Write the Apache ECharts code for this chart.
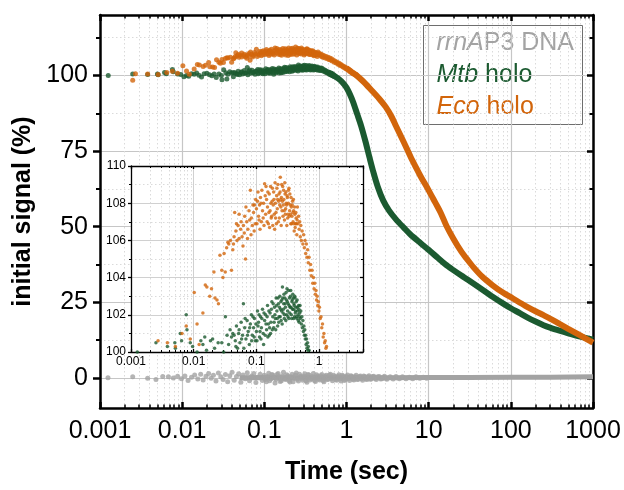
<!DOCTYPE html>
<html>
<head>
<meta charset="utf-8">
<script src="https://cdn.jsdelivr.net/npm/echarts@6/dist/echarts.min.js"></script>
<style>html,body{margin:0;padding:0;background:#fff;}#c{width:624px;height:490px;}</style>
</head>
<body>
<div id="c"></div>
<script>
// ---------------- DATA ----------------
const xTickValues = [0.001, 0.01, 0.1, 1, 10, 100, 1000];
const xTickLabels = ['0.001', '0.01', '0.1', '1', '10', '100', '1000'];
const yTickValues = [0, 25, 50, 75, 100];
const yMinorValues = [12.5, 37.5, 62.5, 87.5, 112.5];
const minorMultipliers = [2, 3, 4, 5, 6, 7, 8, 9];

const seriesNames = ['rrnAP3 DNA', 'Mtb holo', 'Eco holo'];

// Eco holo: early noisy points [time s, signal %]
const ecoDots = [
[0.0025,98.4],[0.0027,100.6],[0.0038,100.5],[0.0051,100.3],[0.0065,101.0],[0.0076,101.4],[0.0088,100.7],
[0.0102,103.2],[0.0113,101.5],[0.0122,100.4],[0.0140,102.1],[0.0153,103.6],[0.0162,103.5],[0.0180,103.0],
[0.0192,103.4],[0.0210,104.3],[0.0218,102.9],[0.0235,102.8],[0.0248,102.6],[0.0262,105.2],[0.0280,104.4],
[0.0292,104.0],[0.0305,105.3],[0.0318,104.3],[0.0335,105.6],[0.0350,105.9],[0.0362,105.8],[0.0385,106.0],
[0.0400,104.4],[0.0420,105.5],[0.0440,106.2],[0.0450,107.5],[0.0470,106.5],[0.0490,106.0],[0.0510,106.8],
[0.0530,107.4],[0.0560,106.6],[0.0590,106.2],[0.0620,106.8],[0.0650,107.3],[0.0670,105.0],[0.0700,107.0],
[0.0730,106.6],[0.0760,107.6],[0.0800,108.7],[0.0830,107.2],[0.0860,106.8],[0.0900,107.5],[0.0930,107.9],
[0.0960,106.9],[0.100,107.7],[0.104,108.1],[0.108,107.3],[0.112,107.9],[0.116,108.3],[0.120,107.0],
[0.125,107.6],[0.130,108.0],[0.135,109.05],[0.140,107.4],[0.145,108.2],[0.150,107.8],[0.155,106.9],
[0.160,108.5],[0.165,107.6],[0.170,108.0],[0.175,107.3],[0.180,108.8],[0.185,107.9],[0.190,108.2],
[0.195,106.6],[0.200,108.0],[0.205,107.5],[0.210,108.4],[0.215,107.7],[0.220,109.0],[0.226,108.1],
[0.232,107.2],[0.238,108.6],[0.240,109.4],[0.245,107.8],[0.250,108.3],[0.256,107.6],[0.262,108.9],
[0.268,107.9],[0.274,108.2],[0.280,107.1],[0.286,108.5],[0.292,107.7],[0.298,108.0],[0.305,106.8],
[0.312,108.3],[0.318,107.4],[0.325,108.7],[0.330,108.8],[0.338,107.6],[0.345,107.9],[0.352,106.9],
[0.360,107.8],[0.368,107.3],[0.376,108.1],[0.384,107.0],[0.392,107.6],[0.400,106.5],[0.410,107.4],
[0.420,106.9],[0.430,107.2],[0.440,106.3],[0.450,107.8],[0.460,106.9],[0.470,107.3],[0.480,106.6],
[0.490,107.0],[0.500,106.2],[0.510,106.8],[0.520,106.0],[0.535,106.5],[0.550,105.8],[0.565,106.3],
[0.580,105.6],[0.595,106.0],[0.610,105.3],[0.625,105.8],[0.640,105.1],[0.655,105.5],[0.670,104.8],
[0.690,105.1],[0.710,104.4],[0.730,104.7],[0.750,104.1],[0.770,104.4],[0.790,103.7],[0.810,104.0],
[0.830,103.4],[0.850,103.7],[0.870,103.1],[0.890,103.3],[0.910,102.8],[0.930,103.0],[0.950,102.5],
[0.970,102.7],[0.990,102.2],[1.010,102.4],[1.040,101.8],[1.070,101.9],[1.100,101.3],[1.130,101.5],
[1.160,100.8],[1.190,101.0],[1.220,100.5],[1.250,100.6],[1.280,100.2],[1.310,100.3],[1.340,99.9],
[0.043,105.8],[0.048,106.9],[0.053,106.1],[0.057,107.0],[0.061,105.7],[0.064,106.4],[0.068,107.8],
[0.072,106.1],[0.078,107.1],[0.082,106.3],[0.088,107.9],[0.092,106.5],[0.097,108.2],
[0.102,106.9],[0.106,108.6],[0.110,107.1],[0.114,106.6],[0.118,108.0],[0.122,108.7],[0.128,107.2],
[0.132,106.8],[0.138,108.4],[0.142,108.9],[0.148,107.0],[0.152,108.6],[0.158,107.5],[0.162,106.7],
[0.168,108.9],[0.172,107.2],[0.178,108.1],[0.182,106.8],[0.188,108.6],[0.192,107.4],[0.198,109.1],
[0.202,107.2],[0.208,106.9],[0.212,108.8],[0.218,108.2],[0.223,107.0],[0.229,108.5],[0.235,107.9],
[0.243,108.2],[0.248,106.8],[0.253,109.0],[0.259,108.1],[0.265,107.3],[0.271,108.7],[0.277,107.6],
[0.283,109.1],[0.289,107.4],[0.295,108.6],[0.302,107.9],[0.308,108.4],[0.315,107.2],[0.322,108.0],
[0.334,107.3],[0.341,108.5],[0.348,107.4],[0.356,108.3],[0.364,106.9],[0.372,107.9],[0.380,107.5],
[0.388,108.2],[0.396,106.9],[0.405,107.8],[0.415,106.7],[0.425,107.5],[0.435,106.9],[0.445,107.1]
];
// Eco holo: dense decay part
const ecoCurve = [
[1.0,102.4],[1.15,101.2],[1.3,100.2],[1.6,98.0],[2.0,95.2],[2.5,92.3],[3.0,89.6],[3.5,86.6],[4,83.3],
[5,77.8],[6,73.2],[7,69.6],[8,66.6],[10,62.0],[12,58.0],[14,54.6],[16.5,50.2],[20,46.0],[25,41.7],
[29,39.4],[35,36.6],[45,33.4],[60,30.6],[80,28.2],[105,26.3],[150,23.8],[200,22.0],[250,20.7],
[300,19.6],[400,17.7],[500,16.2],[700,14.0],[1000,11.6]
];

// Mtb holo: early noisy points
const mtbDots = [
[0.00126,100.0],[0.0025,100.5],[0.0038,100.3],[0.0050,100.5],[0.0051,100.2],[0.0061,101.0],[0.0064,100.6],
[0.0076,102.0],[0.0078,101.2],[0.0088,100.5],[0.0096,100.3],[0.0105,99.6],[0.0113,100.0],[0.0120,99.7],
[0.0130,100.6],[0.0140,100.4],[0.0150,100.8],[0.0160,100.1],[0.0172,99.5],[0.0185,100.6],[0.0200,100.7],
[0.0215,100.2],[0.0230,99.9],[0.0245,100.5],[0.0260,99.3],[0.0280,100.5],[0.0300,100.0],[0.0305,98.6],
[0.0320,101.9],[0.0340,100.9],[0.0350,98.8],[0.0360,100.4],[0.0380,101.2],[0.0400,100.8],[0.0420,99.6],
[0.0440,100.9],[0.0460,100.6],[0.0480,101.4],[0.0500,100.2],[0.0520,101.0],[0.0545,100.5],[0.0570,101.6],
[0.0600,100.9],[0.0620,102.6],[0.0650,101.3],[0.0680,100.7],[0.0710,101.7],[0.0740,101.1],[0.0770,100.4],
[0.0800,101.5],[0.0830,102.0],[0.0860,100.9],[0.0900,101.3],[0.0930,101.8],[0.0960,100.6],[0.100,101.1],
[0.104,102.2],[0.108,101.6],[0.112,100.8],[0.116,101.9],[0.120,101.3],[0.125,102.3],[0.130,100.4],
[0.135,101.7],[0.140,102.0],[0.145,101.2],[0.150,102.5],[0.155,101.5],[0.160,100.9],[0.165,102.1],
[0.170,101.6],[0.176,102.7],[0.182,101.9],[0.188,101.3],[0.194,102.4],[0.200,101.8],[0.206,102.9],
[0.212,102.2],[0.218,101.4],[0.224,102.6],[0.230,101.9],[0.236,103.0],[0.242,102.3],[0.248,101.7],
[0.254,102.8],[0.260,103.5],[0.266,102.1],[0.272,102.6],[0.278,101.8],[0.284,102.9],[0.290,102.4],
[0.297,103.2],[0.304,102.0],[0.311,102.7],[0.318,101.9],[0.325,103.3],[0.332,102.5],[0.340,102.1],
[0.348,103.0],[0.356,102.4],[0.364,101.8],[0.372,102.8],[0.380,103.1],[0.388,102.3],[0.396,102.6],
[0.404,101.9],[0.412,102.9],[0.420,102.2],[0.430,102.7],[0.440,101.8],[0.450,102.4],[0.460,102.0],
[0.470,102.5],[0.480,101.6],[0.490,102.1],[0.500,101.8],[0.510,102.2],[0.520,101.5],[0.530,101.9],
[0.540,101.3],[0.550,101.7],[0.560,101.1],[0.570,101.4],[0.580,100.9],[0.590,101.2],[0.600,100.7],
[0.610,100.9],[0.620,100.4],[0.630,100.7],[0.640,100.2],[0.650,100.5],[0.660,100.1],[0.670,100.3],
[0.680,99.9],[0.690,100.1],[0.700,99.7],
[0.042,101.0],[0.047,100.3],[0.053,101.2],[0.058,100.7],[0.063,100.2],[0.066,101.8],[0.072,100.9],
[0.078,101.3],[0.084,100.6],[0.088,101.9],[0.092,100.8],[0.098,101.5],
[0.102,100.6],[0.106,101.4],[0.110,102.0],[0.114,101.1],[0.118,100.7],[0.122,101.8],[0.128,101.0],
[0.132,102.1],[0.138,100.9],[0.142,101.5],[0.148,101.9],[0.152,100.8],[0.158,102.2],[0.162,101.3],
[0.168,101.0],[0.173,102.3],[0.179,101.2],[0.185,102.6],[0.191,101.6],[0.197,102.0],[0.203,101.2],
[0.209,102.5],[0.215,101.8],[0.221,102.9],[0.227,101.6],[0.233,102.4],[0.239,101.9],[0.245,102.7],
[0.251,102.2],[0.257,101.5],[0.263,102.9],[0.269,102.3],[0.275,103.1],[0.281,102.0],[0.287,102.6],
[0.294,101.7],[0.300,102.8],[0.307,103.4],[0.314,102.2],[0.321,102.6],[0.328,101.8],[0.336,102.9],
[0.344,102.4],[0.352,103.3],[0.360,102.0],[0.368,102.7],[0.376,102.3],[0.384,102.9],[0.392,101.8],
[0.400,102.5],[0.408,103.0],[0.416,102.1],[0.425,102.4],[0.435,101.9],[0.445,102.8],[0.455,102.2],
[0.465,101.7],[0.475,102.3],[0.485,101.9],[0.495,102.5]
];
// Mtb holo: dense decay part
const mtbCurve = [
[0.6,101.0],[0.65,100.6],[0.7,100.0],[0.8,98.9],[0.9,97.6],[1.0,96.0],[1.1,93.8],[1.2,91.3],[1.35,87.2],
[1.5,83.5],[1.7,78.2],[1.9,73.0],[2.1,68.5],[2.4,63.2],[2.8,58.6],[3.3,55.3],[4,52.4],[5,49.6],[6,47.4],
[8,44.5],[10,42.3],[13,39.6],[16,37.5],[20,35.6],[25,33.8],[30,32.4],[40,30.1],[50,28.3],[60,26.8],
[80,24.6],[100,23.0],[130,21.3],[160,19.9],[200,18.6],[250,17.4],[300,16.6],[400,15.5],[500,14.7],
[700,13.6],[1000,12.6]
];

// rrnAP3 DNA: noisy points near zero
const dnaDots = [
[0.00125,0.0],[0.0025,0.3],[0.0038,-0.2],[0.0048,-0.6],[0.0058,0.4],[0.0068,0.3],[0.0078,-0.1],[0.0088,0.5],
[0.0098,-0.3],[0.0108,0.6],[0.0118,-0.9],[0.0130,0.2],[0.0142,0.9],[0.0155,-0.4],[0.0168,1.2],[0.0180,-0.7],
[0.0195,0.5],[0.0210,1.4],[0.0225,-0.2],[0.0240,0.8],[0.0258,-1.1],[0.0276,1.6],[0.0295,0.3],[0.0315,-0.6],
[0.0336,1.1],[0.0358,-1.3],[0.0380,0.7],[0.0405,1.8],[0.0430,-0.8],[0.0458,0.4],[0.0487,1.3],[0.0518,-1.5],
[0.0550,0.9],[0.0585,-0.3],[0.0620,1.7],[0.0660,-1.0],[0.0700,0.6],[0.0745,1.4],[0.0790,-1.6],[0.0840,0.2],
[0.0890,1.2],[0.0945,-0.9],[0.100,0.8],[0.106,-1.3],[0.113,1.5],[0.120,-0.4],[0.127,0.9],[0.135,-1.7],
[0.143,1.1],[0.152,0.3],[0.161,-1.0],[0.171,1.8],[0.182,-0.6],[0.193,0.7],[0.205,-1.4],[0.218,1.2],
[0.231,-0.2],[0.245,1.6],[0.260,-1.1],[0.276,0.5],[0.293,-0.8],[0.311,1.3],[0.330,-1.5],[0.350,0.9],
[0.372,-0.3],[0.395,1.4],[0.419,-1.2],[0.445,0.6],[0.472,-0.7],[0.501,1.1],[0.532,-1.3],[0.565,0.8],
[0.600,-0.5],[0.637,1.2],[0.676,-1.0],[0.718,0.4],[0.762,-0.8],[0.809,1.0],[0.859,-1.1],[0.912,0.6],
[0.968,-0.6],[1.03,0.9],[1.09,-0.9],[1.16,0.5],[1.23,-0.7],[1.31,0.8],[1.39,-0.5],[1.48,0.6],[1.57,-0.8],
[1.67,0.4],[1.77,-0.6],[1.88,0.7],[2.0,-0.4],[2.15,0.5],[2.3,-0.6],[2.5,0.4],[2.7,-0.3],[2.9,0.5],
[3.1,-0.5],[3.4,0.3],[3.7,-0.4],[4.0,0.4],[4.4,-0.3],[4.8,0.3],[5.3,-0.3],[5.8,0.2],[6.4,-0.3],[7.0,0.3],
[7.8,-0.2],[8.6,0.2],[9.5,-0.2],
[0.103,-0.6],[0.109,0.4],[0.116,-1.0],[0.123,1.1],[0.131,0.2],[0.139,-0.5],[0.147,1.4],[0.156,-1.2],
[0.166,0.6],[0.176,-0.3],[0.187,1.0],[0.199,-0.9],[0.211,0.3],[0.224,-1.3],[0.238,0.8],[0.252,-0.5],
[0.268,1.2],[0.284,-0.2],[0.302,0.6],[0.320,-1.0],[0.340,1.1],[0.361,-0.7],[0.383,0.4],[0.407,-0.9],
[0.432,1.0],[0.458,-0.4],[0.487,0.7],[0.516,-0.9],[0.548,0.5],[0.582,-0.6],[0.618,0.9],[0.656,-0.3],
[0.697,0.8],[0.740,-0.6],[0.785,0.5],[0.834,-0.4],[0.885,0.8],[0.940,-0.9],[1.0,0.4],[1.06,-0.3],
[1.13,0.7],[1.20,-0.5],[1.27,0.3],[1.35,-0.6],[1.43,0.4],[1.52,-0.3],[1.62,0.6],[1.72,-0.4],[1.83,0.3],
[1.94,-0.5],[2.07,0.4],[2.22,-0.2],[2.4,0.3],[2.6,-0.4],[2.8,0.2],[3.0,-0.2]
];
const dnaCurve = [
[0.05,0.0],[0.1,0.1],[0.3,0.0],[1,0.1],[3,0.0],[10,0.1],[30,0.05],[100,0.15],[300,0.2],[1000,0.3]
];

// ---------------- STYLE ----------------
const C_DNA = '#a3a3a3', C_MTB = '#1b5a30', C_ECO = '#d2650b';
const FONT = '"Liberation Sans", Arial, sans-serif';
const MAJOR_GRID = { color: '#c6c6c6', width: 1.2 };
const MINOR_GRID = { color: '#dadada', width: 1, type: [1.5, 2.5] };

function minorLogs(lo, hi) {
  const out = [];
  for (let d = lo; d < hi; d++) {
    minorMultipliers.forEach(k => {
      const v = Math.log10(k) + d;
      if (v < hi - 1e-9) out.push(v);
    });
  }
  return out;
}
function decadeLabel(values, labels) {
  return function (v) {
    for (let i = 0; i < values.length; i++) {
      if (Math.abs(Math.log10(v) - Math.log10(values[i])) < 1e-6) return labels[i];
    }
    return '';
  };
}

const mainMinor = minorLogs(-3, 3);
const insetMax = 5;
const insetMinor = minorLogs(-3, Math.log10(insetMax));

function logX(grid, pos, min, max, o) {
  return Object.assign({
    type: 'log', logBase: 10, gridIndex: grid, position: pos, min: min, max: max,
    axisLine: { show: true, onZero: false, lineStyle: { color: '#000', width: o.lw } },
    axisTick: { show: true, inside: true, length: o.tl, lineStyle: { color: '#000', width: o.lw } },
    axisLabel: { show: false },
    splitLine: { show: false }
  }, o.extra || {});
}
function minorX(grid, pos, min, max, vals, o) {
  return {
    type: 'value', gridIndex: grid, position: pos, min: min, max: max,
    axisLine: { show: false, onZero: false },
    axisTick: { show: true, inside: true, length: o.tl, customValues: vals, lineStyle: { color: '#000', width: o.tw } },
    axisLabel: { show: false },
    splitLine: { show: o.grid, lineStyle: MINOR_GRID }
  };
}

const option = {
  animation: false,
  backgroundColor: '#fff',
  textStyle: { fontFamily: FONT },
  grid: [
    { left: 100, top: 15, right: 31, bottom: 77, show: false },
    { left: 131, top: 166, width: 232, height: 186, show: true, backgroundColor: '#fff', borderWidth: 0, z: 3 }
  ],
  xAxis: [
    // main
    logX(0, 'bottom', 0.001, 1000, { lw: 2.5, tl: 6, extra: {
      axisLabel: { show: true, fontSize: 25, color: '#000', margin: 11, fontFamily: FONT,
        formatter: decadeLabel(xTickValues, xTickLabels) },
      splitLine: { show: true, lineStyle: MAJOR_GRID },
      name: 'Time (sec)', nameLocation: 'middle', nameGap: 52,
      nameTextStyle: { fontSize: 25, fontWeight: 'bold', color: '#000', fontFamily: FONT }
    } }),
    logX(0, 'top', 0.001, 1000, { lw: 2.5, tl: 6 }),
    minorX(0, 'bottom', -3, 3, mainMinor, { tl: 3.5, tw: 1.5, grid: true }),
    minorX(0, 'top', -3, 3, mainMinor, { tl: 3.5, tw: 1.5, grid: false }),
    // inset
    logX(1, 'bottom', 0.001, insetMax, { lw: 1.3, tl: 3, extra: {
      z: 4,
      axisLabel: { show: true, fontSize: 12, color: '#000', margin: 4, fontFamily: FONT,
        formatter: decadeLabel(xTickValues, xTickLabels) },
      splitLine: { show: true, lineStyle: { color: '#d0d0d0', width: 1 } }
    } }),
    Object.assign(logX(1, 'top', 0.001, insetMax, { lw: 1.3, tl: 3 }), { z: 4 }),
    Object.assign(minorX(1, 'bottom', -3, Math.log10(insetMax), insetMinor, { tl: 2, tw: 1, grid: true }), { z: 4 }),
    Object.assign(minorX(1, 'top', -3, Math.log10(insetMax), insetMinor, { tl: 2, tw: 1, grid: false }), { z: 4 })
  ],
  yAxis: [
    // main left majors
    {
      type: 'value', gridIndex: 0, position: 'left', min: -10, max: 120,
      axisLine: { show: true, onZero: false, lineStyle: { color: '#000', width: 2.5 } },
      axisTick: { show: true, inside: false, length: 7, customValues: yTickValues, lineStyle: { color: '#000', width: 2.5 } },
      axisLabel: { show: true, customValues: yTickValues, fontSize: 25, color: '#000', margin: 12, fontFamily: FONT },
      splitLine: { show: true, lineStyle: MAJOR_GRID },
      name: 'initial signal (%)', nameLocation: 'middle', nameGap: 60,
      nameTextStyle: { fontSize: 25, fontWeight: 'bold', color: '#000', fontFamily: FONT }
    },
    // main left minors
    {
      type: 'value', gridIndex: 0, position: 'left', min: -10, max: 120,
      axisLine: { show: false, onZero: false },
      axisTick: { show: true, inside: false, length: 4, customValues: yMinorValues, lineStyle: { color: '#000', width: 2 } },
      axisLabel: { show: false },
      splitLine: { show: true, lineStyle: MINOR_GRID }
    },
    // main right majors
    {
      type: 'value', gridIndex: 0, position: 'right', min: -10, max: 120,
      axisLine: { show: true, onZero: false, lineStyle: { color: '#000', width: 2.5 } },
      axisTick: { show: true, inside: true, length: 6, customValues: yTickValues, lineStyle: { color: '#000', width: 2.5 } },
      axisLabel: { show: false }, splitLine: { show: false }
    },
    // main right minors
    {
      type: 'value', gridIndex: 0, position: 'right', min: -10, max: 120,
      axisLine: { show: false, onZero: false },
      axisTick: { show: true, inside: true, length: 3.5, customValues: yMinorValues, lineStyle: { color: '#000', width: 2 } },
      axisLabel: { show: false }, splitLine: { show: false }
    },
    // inset left
    {
      type: 'value', gridIndex: 1, position: 'left', min: 100, max: 110, interval: 2, z: 4,
      axisLine: { show: true, onZero: false, lineStyle: { color: '#000', width: 1.3 } },
      axisTick: { show: true, inside: false, length: 3, lineStyle: { color: '#000', width: 1.3 } },
      minorTick: { show: true, splitNumber: 2, length: 2, lineStyle: { color: '#000', width: 1 } },
      axisLabel: { show: true, fontSize: 12, color: '#000', margin: 5, fontFamily: FONT },
      splitLine: { show: true, lineStyle: { color: '#d0d0d0', width: 1 } },
      minorSplitLine: { show: true, lineStyle: MINOR_GRID }
    },
    // inset right
    {
      type: 'value', gridIndex: 1, position: 'right', min: 100, max: 110, interval: 2, z: 4,
      axisLine: { show: true, onZero: false, lineStyle: { color: '#000', width: 1.3 } },
      axisTick: { show: true, inside: true, length: 3, lineStyle: { color: '#000', width: 1.3 } },
      minorTick: { show: true, splitNumber: 2, length: 2, lineStyle: { color: '#000', width: 1 } },
      axisLabel: { show: false }, splitLine: { show: false }
    }
  ],
  series: [
    { name: seriesNames[0], type: 'line', xAxisIndex: 0, yAxisIndex: 0, data: dnaCurve, showSymbol: false, symbol: 'none',
      lineStyle: { color: C_DNA, width: 5 }, z: 2 },
    { name: seriesNames[0], type: 'scatter', xAxisIndex: 0, yAxisIndex: 0, data: dnaDots, symbolSize: 5,
      itemStyle: { color: C_DNA }, z: 2 },
    { name: seriesNames[1], type: 'scatter', xAxisIndex: 0, yAxisIndex: 0, data: mtbDots, symbolSize: 5,
      itemStyle: { color: C_MTB }, z: 2 },
    { name: seriesNames[1], type: 'line', xAxisIndex: 0, yAxisIndex: 0, data: mtbCurve, symbol: 'none', smooth: 0.3,
      lineStyle: { color: C_MTB, width: 6 }, z: 2 },
    { name: seriesNames[2], type: 'scatter', xAxisIndex: 0, yAxisIndex: 0, data: ecoDots, symbolSize: 5,
      itemStyle: { color: C_ECO }, z: 2 },
    { name: seriesNames[2], type: 'line', xAxisIndex: 0, yAxisIndex: 0, data: ecoCurve, symbol: 'none', smooth: 0.3,
      lineStyle: { color: C_ECO, width: 6 }, z: 2 },
    // inset
    { name: seriesNames[1], type: 'scatter', xAxisIndex: 4, yAxisIndex: 4, data: mtbDots, symbolSize: 3.5,
      itemStyle: { color: C_MTB }, z: 5, clip: true },
    { name: seriesNames[2], type: 'scatter', xAxisIndex: 4, yAxisIndex: 4, data: ecoDots, symbolSize: 3.5,
      itemStyle: { color: C_ECO }, z: 5, clip: true }
  ],
  graphic: [{
    type: 'group', left: 423, top: 25, z: 10,
    children: [
      { type: 'rect', shape: { x: 0, y: 0, width: 159, height: 99 }, style: { fill: '#fff', stroke: '#6e6e6e', lineWidth: 1 } },
      { type: 'text', x: 13, y: 18, style: { text: '{i|rrnA}{n|P3 DNA}', verticalAlign: 'middle', fill: C_DNA,
          rich: { i: { fontStyle: 'italic', fontSize: 25, fontFamily: FONT, fill: C_DNA }, n: { fontSize: 25, fontFamily: FONT, fill: C_DNA } } } },
      { type: 'text', x: 13, y: 50, style: { text: '{i|Mtb}{n| holo}', verticalAlign: 'middle', fill: C_MTB,
          rich: { i: { fontStyle: 'italic', fontSize: 25, fontFamily: FONT, fill: C_MTB }, n: { fontSize: 25, fontFamily: FONT, fill: C_MTB } } } },
      { type: 'text', x: 13, y: 82, style: { text: '{i|Eco}{n| holo}', verticalAlign: 'middle', fill: C_ECO,
          rich: { i: { fontStyle: 'italic', fontSize: 25, fontFamily: FONT, fill: C_ECO }, n: { fontSize: 25, fontFamily: FONT, fill: C_ECO } } } }
    ]
  }]
};

const chart = echarts.init(document.getElementById('c'), null, { renderer: 'canvas' });
chart.setOption(option);
</script>
</body>
</html>
